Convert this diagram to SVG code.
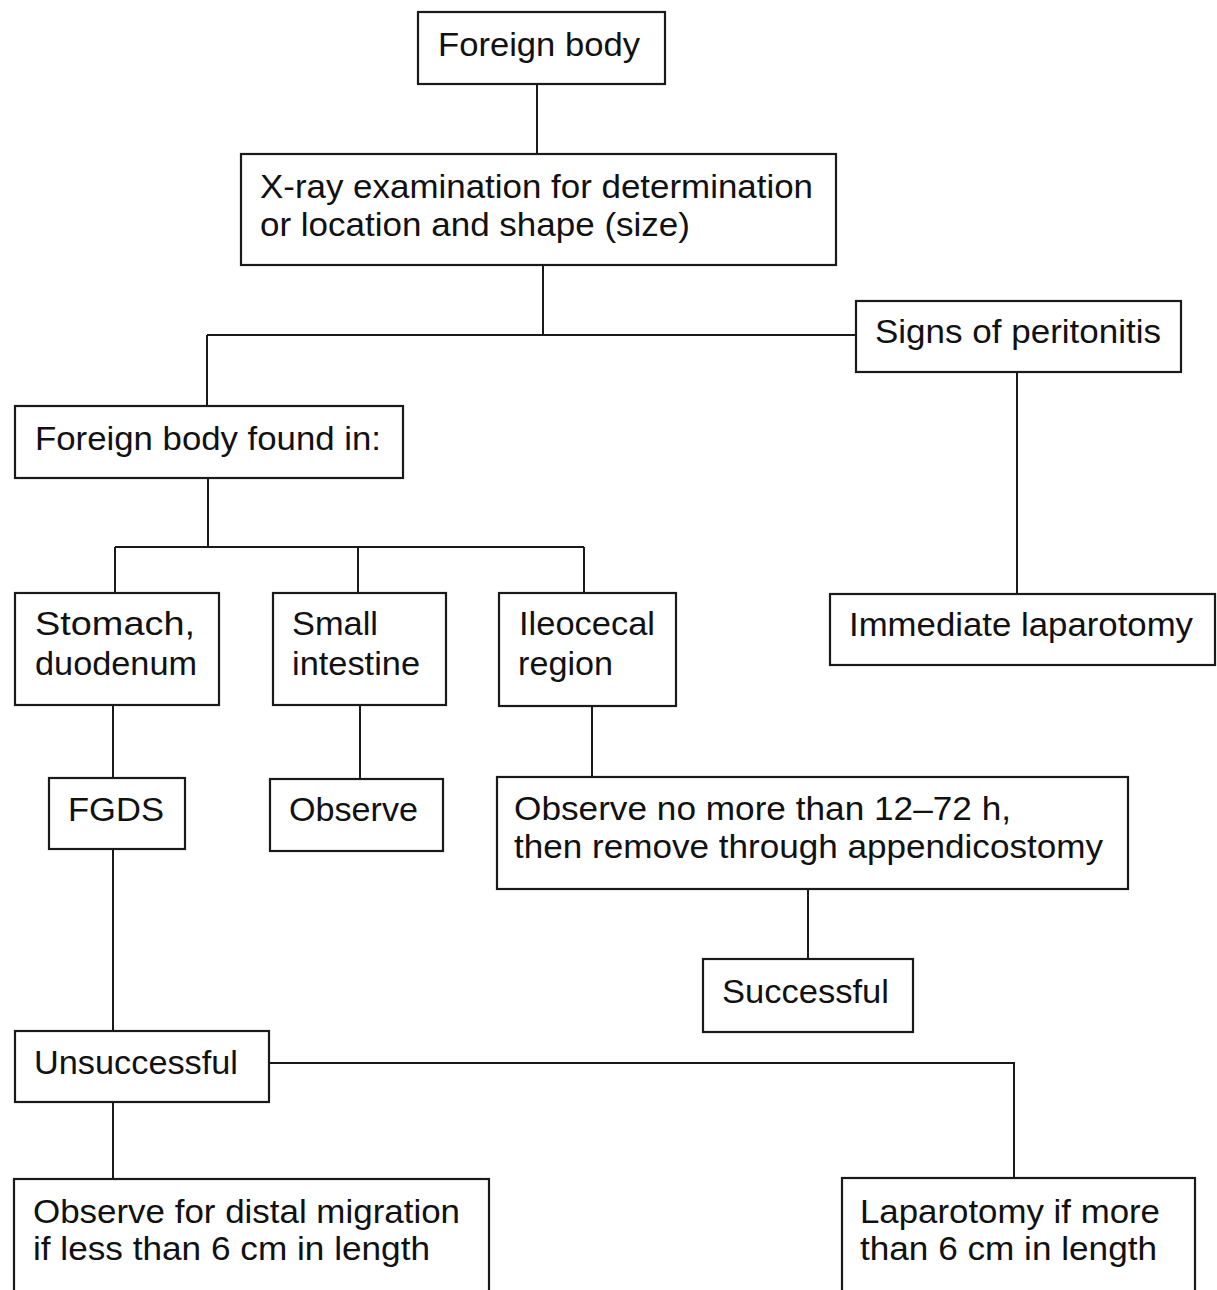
<svg xmlns="http://www.w3.org/2000/svg" width="1217" height="1290" viewBox="0 0 1217 1290">
<style>
.box{fill:#fff;stroke:#1a1a1a;stroke-width:2.2}
.ln{fill:none;stroke:#1a1a1a;stroke-width:2}
text{font-family:"Liberation Sans",Arial,sans-serif;font-size:33px;fill:#111}
</style>
<rect width="1217" height="1290" fill="#fff"/>
<g id="connectors">
<path class="ln" d="M537 84V154"/>
<path class="ln" d="M543 265V335M207 335H856M207 335V406"/>
<path class="ln" d="M1017 372V594"/>
<path class="ln" d="M208 478V547M115 547H584M115 547V593M358 547V593M584 547V593"/>
<path class="ln" d="M113 705V778M360 705V779M592 706V777"/>
<path class="ln" d="M113 849V1031"/>
<path class="ln" d="M808 889V959"/>
<path class="ln" d="M269 1063H1014V1178"/>
<path class="ln" d="M113 1102V1179"/>
</g>
<g id="n-foreign-body"><rect class="box" x="418" y="12" width="247" height="72"/><text x="438" y="56" textLength="202" lengthAdjust="spacingAndGlyphs">Foreign body</text></g>
<g id="n-xray"><rect class="box" x="241" y="154" width="595" height="111"/><text x="260" y="198" textLength="553" lengthAdjust="spacingAndGlyphs">X-ray examination for determination</text><text x="260" y="236" textLength="430" lengthAdjust="spacingAndGlyphs">or location and shape (size)</text></g>
<g id="n-signs"><rect class="box" x="856" y="301" width="325" height="71"/><text x="875" y="343" textLength="286" lengthAdjust="spacingAndGlyphs">Signs of peritonitis</text></g>
<g id="n-found"><rect class="box" x="15" y="406" width="388" height="72"/><text x="35" y="450" textLength="346" lengthAdjust="spacingAndGlyphs">Foreign body found in:</text></g>
<g id="n-stomach"><rect class="box" x="15" y="593" width="204" height="112"/><text x="35" y="635" textLength="160" lengthAdjust="spacingAndGlyphs">Stomach,</text><text x="35" y="675" textLength="162" lengthAdjust="spacingAndGlyphs">duodenum</text></g>
<g id="n-small"><rect class="box" x="273" y="593" width="173" height="112"/><text x="292" y="635" textLength="86" lengthAdjust="spacingAndGlyphs">Small</text><text x="292" y="675" textLength="128" lengthAdjust="spacingAndGlyphs">intestine</text></g>
<g id="n-ileocecal"><rect class="box" x="499" y="593" width="177" height="113"/><text x="519" y="635" textLength="136" lengthAdjust="spacingAndGlyphs">Ileocecal</text><text x="518" y="675" textLength="95" lengthAdjust="spacingAndGlyphs">region</text></g>
<g id="n-immediate"><rect class="box" x="830" y="594" width="385" height="71"/><text x="849" y="636" textLength="344" lengthAdjust="spacingAndGlyphs">Immediate laparotomy</text></g>
<g id="n-fgds"><rect class="box" x="49" y="778" width="136" height="71"/><text x="68" y="821" textLength="96" lengthAdjust="spacingAndGlyphs">FGDS</text></g>
<g id="n-observe"><rect class="box" x="270" y="779" width="173" height="72"/><text x="289" y="821" textLength="129" lengthAdjust="spacingAndGlyphs">Observe</text></g>
<g id="n-observe-12"><rect class="box" x="497" y="777" width="631" height="112"/><text x="514" y="820" textLength="497" lengthAdjust="spacingAndGlyphs">Observe no more than 12–72 h,</text><text x="514" y="858" textLength="589" lengthAdjust="spacingAndGlyphs">then remove through appendicostomy</text></g>
<g id="n-successful"><rect class="box" x="703" y="959" width="210" height="73"/><text x="722" y="1003" textLength="167" lengthAdjust="spacingAndGlyphs">Successful</text></g>
<g id="n-unsuccessful"><rect class="box" x="15" y="1031" width="254" height="71"/><text x="34" y="1074" textLength="204" lengthAdjust="spacingAndGlyphs">Unsuccessful</text></g>
<g id="n-observe-distal"><rect class="box" x="14" y="1179" width="475" height="130"/><text x="33" y="1223" textLength="427" lengthAdjust="spacingAndGlyphs">Observe for distal migration</text><text x="33" y="1260" textLength="397" lengthAdjust="spacingAndGlyphs">if less than 6 cm in length</text></g>
<g id="n-laparotomy"><rect class="box" x="842" y="1178" width="353" height="130"/><text x="860" y="1223" textLength="300" lengthAdjust="spacingAndGlyphs">Laparotomy if more</text><text x="860" y="1260" textLength="297" lengthAdjust="spacingAndGlyphs">than 6 cm in length</text></g>
</svg>
